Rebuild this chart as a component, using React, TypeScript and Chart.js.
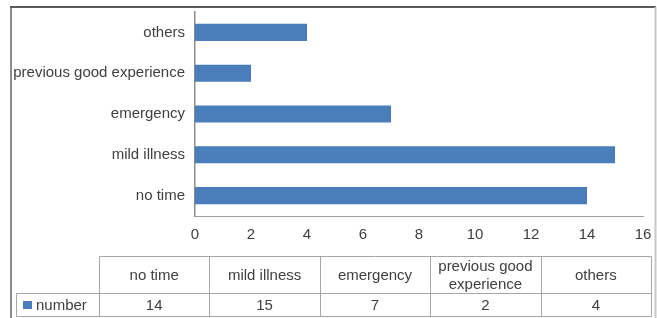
import React, { useEffect, useRef } from "react";
import { Chart, registerables } from "chart.js";

Chart.register(...registerables);

const categories = ["no time", "mild illness", "emergency", "previous good experience", "others"];
const seriesName = "number";
const values = [14, 15, 7, 2, 4];
const xTickMin = 0;
const xTickMax = 16;
const xTickStep = 2;

const FONT = "'Liberation Sans', Arial, sans-serif";
const TEXT = "#404040";
const BAR = "#4a7ebb";
const GRID = "#a6a6a6";

function wrap(ctx: CanvasRenderingContext2D, text: string, maxW: number): string[] {
  const words = text.split(" ");
  const lines: string[] = [];
  let cur = "";
  for (const w of words) {
    const t = cur ? cur + " " + w : w;
    if (ctx.measureText(t).width > maxW && cur) {
      lines.push(cur);
      cur = w;
    } else cur = t;
  }
  if (cur) lines.push(cur);
  return lines;
}

const framePlugin = {
  id: "frame",
  beforeDraw(chart: any) {
    const { ctx, width, height } = chart;
    ctx.save();
    ctx.fillStyle = "#ffffff";
    ctx.fillRect(0, 0, width, height);
    // outer frame
    ctx.lineWidth = 2;
    ctx.strokeStyle = "#8c8c8c";
    ctx.beginPath();
    ctx.moveTo(11, height + 2);
    ctx.lineTo(11, 7);
    ctx.stroke();
    ctx.strokeStyle = "#5a5a5a";
    ctx.beginPath();
    ctx.moveTo(10, 7);
    ctx.lineTo(656, 7);
    ctx.stroke();
    ctx.strokeStyle = "#c8c8c8";
    ctx.beginPath();
    ctx.moveTo(655.5, 7);
    ctx.lineTo(655.5, height + 2);
    ctx.stroke();
    ctx.restore();
  },
  afterDraw(chart: any) {
    const { ctx } = chart;
    ctx.save();
    // data table
    const left0 = 16;
    const left = 99;
    const right = 651;
    const top = 256;
    const mid = 293;
    const bottom = 316;
    const n = categories.length;
    const cw = (right - left) / n;
    ctx.lineWidth = 1;
    ctx.strokeStyle = GRID;
    ctx.beginPath();
    ctx.moveTo(left + 0.5, top + 0.5);
    ctx.lineTo(right + 0.5, top + 0.5);
    ctx.moveTo(left0 + 0.5, mid + 0.5);
    ctx.lineTo(right + 0.5, mid + 0.5);
    ctx.moveTo(left0 + 0.5, bottom + 0.5);
    ctx.lineTo(right + 0.5, bottom + 0.5);
    ctx.moveTo(left0 + 0.5, mid + 0.5);
    ctx.lineTo(left0 + 0.5, bottom + 0.5);
    for (let i = 0; i <= n; i++) {
      const x = Math.round(left + i * cw) + 0.5;
      ctx.moveTo(x, top + 0.5);
      ctx.lineTo(x, bottom + 0.5);
    }
    ctx.stroke();

    ctx.font = `15px ${FONT}`;
    ctx.fillStyle = TEXT;
    ctx.textAlign = "center";
    ctx.textBaseline = "middle";
    categories.forEach((c, i) => {
      const cx = left + (i + 0.5) * cw;
      const lines = wrap(ctx, c, cw - 8);
      const lh = 18;
      const cy = (top + mid) / 2 + 1;
      lines.forEach((ln, j) => {
        ctx.fillText(ln, cx, cy + (j - (lines.length - 1) / 2) * lh);
      });
      ctx.fillText(String(values[i]), cx, (mid + bottom) / 2 + 1);
    });
    // legend key
    ctx.fillStyle = BAR;
    ctx.fillRect(23, 301, 9, 8);
    ctx.fillStyle = TEXT;
    ctx.textAlign = "left";
    ctx.fillText(seriesName, 36, (mid + bottom) / 2 + 1);
    ctx.restore();
  },
};

export default function App() {
  const ref = useRef<HTMLCanvasElement | null>(null);
  useEffect(() => {
    if (!ref.current) return;
    const chart = new Chart(ref.current, {
      type: "bar",
      data: {
        labels: categories,
        datasets: [
          {
            label: seriesName,
            data: values,
            backgroundColor: BAR,
            barPercentage: 0.42,
            categoryPercentage: 1,
          },
        ],
      },
      options: {
        indexAxis: "y",
        animation: false,
        responsive: false,
        maintainAspectRatio: false,
        events: [],
        layout: { autoPadding: false, padding: { top: 12, right: 14, left: 0, bottom: 0 } },
        plugins: { legend: { display: false }, tooltip: { enabled: false } },
        scales: {
          x: {
            min: xTickMin,
            max: xTickMax,
            ticks: {
              stepSize: xTickStep,
              font: { family: FONT, size: 15 },
              color: TEXT,
              padding: 10,
              maxRotation: 0,
            },
            grid: { display: false, drawTicks: false },
            border: { display: true, color: "#a0a0a0", width: 1 },
            afterFit: (s: any) => {
              s.height = 318 - 216;
              s.paddingLeft = 0;
              s.paddingRight = 0;
            },
          },
          y: {
            reverse: true,
            ticks: {
              font: { family: FONT, size: 15 },
              color: TEXT,
              padding: 10,
            },
            grid: { display: false, drawTicks: false },
            border: { display: true, color: "#8c8c8c", width: 1.5 },
            afterFit: (s: any) => {
              s.width = 195;
              s.paddingTop = 0;
              s.paddingBottom = 0;
            },
          },
        },
      },
      plugins: [framePlugin],
    });
    return () => chart.destroy();
  }, []);
  return (
    <div style={{ position: "fixed", left: 0, top: 0, width: 657, height: 318 }}>
      <canvas ref={ref} width={657} height={318} style={{ width: 657, height: 318, display: "block" }} />
    </div>
  );
}
